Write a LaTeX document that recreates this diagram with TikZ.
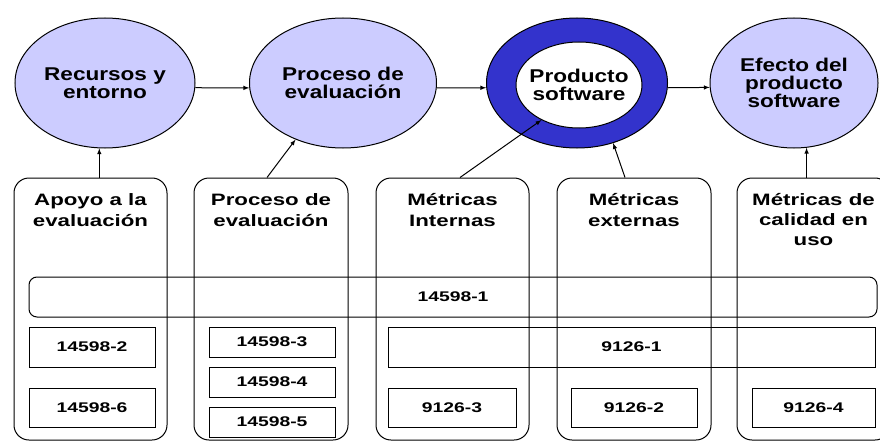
\documentclass[tikz,border=0pt]{standalone}
\usepackage{fontspec}
\setmainfont{Liberation Sans}
\newfontfamily\ellfont[FakeStretch=1.22]{Liberation Sans}
\newfontfamily\colfont[FakeStretch=1.35]{Liberation Sans}
\newfontfamily\numfont[FakeStretch=1.38]{Liberation Sans}
\usepackage{tikz}
\usetikzlibrary{positioning}
\usetikzlibrary{arrows}
\usetikzlibrary{shapes.geometric}
\definecolor{lila}{RGB}{204,204,255}
\definecolor{ring}{RGB}{51,51,204}

\begin{document}
\begin{tikzpicture}[x=1pt,y=-1pt,line width=1pt,>=latex,
  ell/.style={ellipse,draw=black,fill=lila,inner sep=0pt,align=center,
              font=\ellfont\bfseries\fontsize{18.5}{18}\selectfont},
  col/.style={rectangle,rounded corners=15pt,draw=black,minimum width=153pt,
              minimum height=262pt,inner sep=0pt},
  coltxt/.style={align=center,inner sep=0pt,anchor=base,
                 font=\colfont\bfseries\fontsize{16.5}{21.5}\selectfont},
  numbox/.style={rectangle,draw=black,inner sep=0pt,minimum width=126pt,
                 minimum height=40pt,font=\numfont\bfseries\fontsize{14}{16}\selectfont}]
\path[use as bounding box,clip] (0,0) rectangle (880,441);

% ellipses on top
\node at (105,83) [ell,minimum width=180pt,minimum height=130pt] (res) {Recursos y\\entorno};
\node at (343,83) [ell,minimum width=187pt,minimum height=130pt] (proc) {Proceso de\\evaluación};
\node at (577,83) [ell,fill=ring,minimum width=181pt,minimum height=130pt] (prod) {};
\node at (579,85) [ell,fill=white,inner xsep=-8pt,minimum width=126pt,minimum height=86pt] (prodin) {Producto\\software};
\node at (794,83) [ell,minimum width=168pt,minimum height=130pt] (efec) {Efecto del\\producto\\software};

\draw[->] (res.-3) -- (proc.183);
\draw[->] (proc.-3) -- (prod.183);
\draw[->] (prod.-3) -- (efec.183);

% columns
\node at (90.5,309) [col] (c1) {};
\node at (271,309) [col,minimum width=154pt] (c2) {};
\node at (452.5,309) [col] (c3) {};
\node at (634,309) [col,minimum width=154pt] (c4) {};
\node at (813.5,309) [col] (c5) {};

% base = last line
\node at (90.5,226.5) [coltxt] (c1t) {Apoyo a la\\evaluación};
\node at (271,226.5) [coltxt] (c2t) {Proceso de\\evaluación};
\node at (452.5,226.5) [coltxt] (c3t) {Métricas\\Internas};
\node at (634,226.5) [coltxt] (c4t) {Métricas\\externas};
\node at (813.5,245) [coltxt,font=\colfont\bfseries\fontsize{16.5}{20}\selectfont] (c5t) {Métricas de\\calidad en\\uso};

\draw[->] (res.265 |- c1.north) -- (res.265);
\draw[->] ([xshift=-4pt]c2.north) -- (proc.230);
\draw[->] ([xshift=7.5pt]c3.north) -- (prodin.223);
\draw[->] ([xshift=-9pt]c4.north) -- (prod.301);
\draw[->] (efec.281 |- c5.north) -- (efec.281);

% standards
\node at (453,297) [numbox,rounded corners=8pt,minimum width=848pt] (iso1) {14598-1};
\node at (92,347) [numbox] (iso2) {14598-2};
\node at (92,407.5) [numbox,minimum height=39pt] (iso6) {14598-6};
\node at (272,342) [numbox,minimum height=30pt] (iso3) {14598-3};
\node at (272,382) [numbox,minimum height=30pt] (iso4) {14598-4};
\node at (272,422) [numbox,minimum height=30pt] (iso5) {14598-5};
\node at (631.5,347) [numbox,minimum width=487pt] (sq1) {9126-1};
\node at (452,407.5) [numbox,minimum width=128pt,minimum height=39pt] (sq3) {9126-3};
\node at (634,407.5) [numbox,minimum height=39pt] (sq2) {9126-2};
\node at (813.5,407.5) [numbox,minimum width=123pt,minimum height=39pt] (sq4) {9126-4};
\end{tikzpicture}
\end{document}
